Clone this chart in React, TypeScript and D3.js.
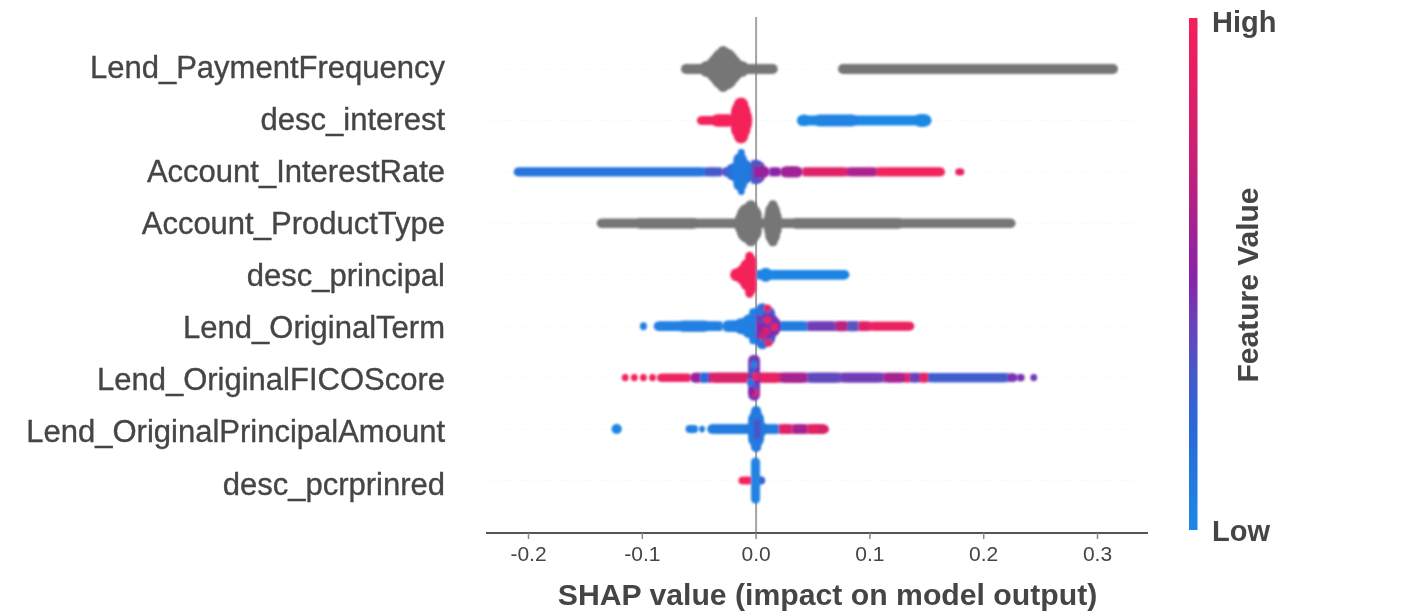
import React from "react";
import * as d3 from "d3";

// [from SHAP, to SHAP, stacked dots, feature value (null = no value, grey)]
type Run = [number, number, number, number | null];
// [SHAP, stack lane away from the row centre, feature value]
type Dot = [number, number, number];

const features = [
  "Lend_PaymentFrequency", "desc_interest", "Account_InterestRate", "Account_ProductType",
  "desc_principal", "Lend_OriginalTerm", "Lend_OriginalFICOScore",
  "Lend_OriginalPrincipalAmount", "desc_pcrprinred",
];
const xTicks = [-0.2, -0.1, 0, 0.1, 0.2, 0.3];

const paymentFrequency: Run[] = [
  [0.072, 0.318, 1, null], [-0.066, 0.019, 1, null],
  [-0.05, -0.006, 2.5, null], [-0.045, -0.011, 6, null], [-0.044, -0.012, 7.5, null],
  [-0.04, -0.016, 9, null], [-0.034, -0.024, 10, null],
];
const descInterest: Run[] = [
  [0.036, 0.154, 0.9, 0], [0.036, 0.048, 1.3, 0], [0.05, 0.09, 1.4, 0.03], [0.138, 0.154, 1.6, 0],
  [-0.052, -0.022, 0.6, 1], [-0.04, -0.02, 1.5, 1],
  [-0.022, -0.0035, 5, 1], [-0.022, -0.005, 8, 0.98], [-0.0195, -0.007, 10, 1],
];
const interestRate: Run[] = [
  [-0.213, -0.045, 0.7, 0.13], [-0.045, -0.03, 0.7, 0.3], [-0.03, -0.015, 1, 0.38],
  [-0.027, 0.008, 3, 0.16], [0.0, 0.0075, 3.5, 0.42],
  [-0.022, -0.002, 5, 0.12], [-0.02, -0.008, 8, 0.1], [-0.016, -0.01, 10, 0.08],
  [-0.004, 0.006, 4.5, 0.32], [-0.002, 0.012, 1.5, 0.55],
  [0.012, 0.021, 0.7, 0.5], [0.021, 0.041, 1.2, 0.58], [0.041, 0.08, 0.7, 0.85],
  [0.08, 0.106, 0.7, 0.62], [0.106, 0.166, 0.7, 0.98], [0.175, 0.183, 0.2, 0.9],
];
const productType: Run[] = [
  [-0.14, 0.228, 0.8, null], [-0.107, -0.05, 1.1, null], [0.03, 0.13, 1.1, null],
  [-0.019, 0.005, 6, null], [-0.017, 0.005, 8.5, null], [-0.01, 0.001, 10, null],
  [0.007, 0.0225, 6, null], [0.008, 0.021, 8.5, null], [0.0105, 0.019, 10, null],
];
const principal: Run[] = [
  [0.0, 0.082, 0.85, 0.02], [0.003, 0.014, 2, 0.02],
  [-0.0228, 0.0, 1.7, 1], [-0.0185, 0.0, 4, 1], [-0.014, 0.0, 6.5, 1],
  [-0.009, 0.0, 8.5, 1], [-0.0095, -0.002, 10, 1],
];
const originalTerm: Run[] = [
  [-0.102, -0.096, 0.5, 0.05], [-0.09, -0.03, 0.9, 0.05], [-0.07, -0.04, 1.2, 0.05],
  [-0.03, 0.0, 1.3, 0.05], [-0.02, 0.0, 2.5, 0.05], [-0.012, 0.0, 4.5, 0.05], [-0.006, 0.001, 7.5, 0.06],
  [0.02, 0.045, 0.9, 0.08], [0.045, 0.07, 0.9, 0.42], [0.07, 0.08, 1, 0.68],
  [0.08, 0.09, 1, 0.35], [0.09, 0.1, 0.9, 0.85], [0.1, 0.139, 0.7, 0.93],
  [0.0, 0.011, 10, 0.12], [0.0, 0.017, 9, 0.3], [0.0, 0.022, 4.5, 0.45],
];
const originalTermDots: Dot[] = [
  [0.003, -3.5, 0.1], [0.01, -4.5, 0.95], [0.004, -1.5, 0.4], [0.01, -1.5, 0.98], [0.016, 0.2, 0.98],
  [0.004, 0.5, 0.55], [0.009, 1.2, 0.8], [0.006, 2.5, 0.75], [0.003, 4.2, 0.15], [0.011, 4.2, 0.95],
];
const ficoScore: Run[] = [
  [-0.118, -0.112, 0.3, 1], [-0.11, -0.104, 0.3, 1], [-0.102, -0.096, 0.3, 0.98], [-0.094, -0.088, 0.3, 1],
  [-0.087, -0.058, 0.5, 0.95], [-0.058, -0.049, 1, 0.55],
  [-0.049, -0.042, 1, 0.2], [-0.042, -0.04, 1, 0.55], [-0.04, -0.005, 1, 0.82],
  [0.001, 0.021, 1, 0.9], [0.021, 0.045, 1, 0.6], [0.045, 0.074, 1, 0.38], [0.074, 0.112, 0.9, 0.42],
  [0.112, 0.131, 0.9, 0.6], [0.131, 0.135, 0.9, 0.9], [0.135, 0.144, 0.9, 0.4], [0.144, 0.151, 0.9, 0.92],
  [0.151, 0.221, 0.8, 0.28], [0.221, 0.23, 0.6, 0.45], [0.23, 0.236, 0.3, 0.45], [0.241, 0.247, 0.3, 0.42],
  [-0.007, 0.0035, 10, 0.45],
];
const ficoDots: Dot[] = [
  [-0.002, -4.5, 0.4], [-0.002, -3.2, 0.05], [-0.004, -1.6, 0.3], [0.0, -0.3, 0.98], [-0.005, 1.2, 0.1],
  [-0.001, 2.5, 0.35], [-0.001, 3.8, 0.95], [-0.004, 3.4, 0.5],
];
const principalAmount: Run[] = [
  [-0.127, -0.118, 1, 0.02], [-0.062, -0.051, 0.5, 0.05], [-0.05, -0.045, 0.2, 0.05],
  [-0.043, 0.02, 0.9, 0.08], [0.02, 0.032, 0.9, 0.85], [0.032, 0.045, 0.9, 0.6], [0.045, 0.06, 0.9, 0.88], [0.053, 0.064, 0.7, 0.8],
  [-0.008, 0.009, 4, 0.1], [-0.007, 0.007, 7.5, 0.08], [-0.0045, 0.0045, 10, 0.1], [-0.002, 0.004, 3.5, 0.3],
];
const pcrPrinred: Run[] = [
  [-0.0155, 0.0, 0.4, 1], [-0.0045, 0.008, 0.5, 0.25], [-0.0045, 0.0035, 10, 0.03],
];

const rows: Run[][] = [
  paymentFrequency, descInterest, interestRate, productType, principal,
  originalTerm, ficoScore, principalAmount, pcrPrinred,
];
const scattered: Dot[][] = [[], [], [], [], [], originalTermDots, ficoDots, [], []];

const W = 1425, H = 615;
const FONT = "'Liberation Sans', Arial, sans-serif";
const TEXT = "#454545";

const x = d3.scaleLinear().domain([-0.2, 0.3]).range([528.5, 1097.5]);
const yDots = d3.scalePoint<number>().domain(d3.range(9)).range([69, 480.5]);
const yLabels = d3.scalePoint<number>().domain(d3.range(9)).range([67, 484]);
const thick = d3.scaleLinear().domain([1, 10]).range([10, 46]);
const colour = d3.scaleLinear<string>()
  .domain([0, 0.22, 0.36, 0.5, 0.75, 1])
  .range(["#1e88e5", "#2a66d8", "#5a50c0", "#8a22a8", "#d0206f", "#f5205a"]);
const barY = d3.scaleLinear().domain([0, 1]).range([530, 18]);
const gradStops = d3.range(0, 1.01, 0.1);

function RunMark({ run, others }: { run: Run; others: Run[] }) {
  const [a, b, s, c] = run;
  const t = thick(s);
  const w = x(b) - x(a);
  const r = Math.min(w, t) / 2;
  const fill = c === null ? "#767676" : colour(c);
  const y = -t / 2;
  // an end that meets a neighbouring run of the band stays square, so the band has no notch
  const left = others.some((o) => o !== run && o[0] < a && o[1] >= a - 1e-6 && thick(o[2]) >= t - 1);
  const right = others.some((o) => o !== run && o[1] > b && o[0] <= b + 1e-6 && thick(o[2]) >= t - 1);
  const sx = left ? x(a) : x(a) + r;
  const ex = right ? x(b) : x(b) - r;
  return (
    <g>
      <rect x={x(a)} width={w} y={y} height={t} rx={r} ry={r} fill={fill} />
      <rect x={sx} width={Math.max(0, ex - sx)} y={y} height={t} fill={fill} />
    </g>
  );
}

export default function App() {
  return (
    <svg width={W} height={H} viewBox={`0 0 ${W} ${H}`}
      style={{ position: "absolute", left: 0, top: 0, background: "#fff", fontFamily: FONT }}>
      <defs>
        <filter id="soft" x="-5%" y="-5%" width="110%" height="110%">
          <feGaussianBlur stdDeviation="0.8" />
        </filter>
        <linearGradient id="bar" x1="0" y1="1" x2="0" y2="0">
          {gradStops.map((s) => <stop key={s} offset={s} stopColor={colour(s)} />)}
        </linearGradient>
      </defs>

      {features.map((_, i) => (
        <line key={i} x1={490} x2={1140} y1={yDots(i)} y2={yDots(i)} stroke="#f6f6f6" strokeWidth={1} strokeDasharray="2 3" />
      ))}
      <line x1={x(0)} x2={x(0)} y1={17} y2={533} stroke="#a3a3a3" strokeWidth={2} />

      <g filter="url(#soft)">
        {rows.map((runs, i) => (
          <g key={i} transform={`translate(0,${yDots(i)})`}>
            {runs.map((r, j) => <RunMark key={j} run={r} others={runs} />)}
            {scattered[i].map(([v, lane, c], j) => (
              <circle key={j} cx={x(v)} cy={lane * 4} r={3.6} fill={colour(c)} />
            ))}
          </g>
        ))}
      </g>

      <line x1={486} x2={1148} y1={533} y2={533} stroke="#555" strokeWidth={2} />
      {xTicks.map((v) => (
        <g key={v}>
          <line x1={x(v)} x2={x(v)} y1={533} y2={539} stroke="#888" strokeWidth={1.5} />
          <text x={x(v)} y={561} textAnchor="middle" fontSize={21} fill={TEXT}>{v.toFixed(1)}</text>
        </g>
      ))}
      <text x={827.5} y={605} textAnchor="middle" fontSize={30.2} fontWeight="bold" fill={TEXT}>
        SHAP value (impact on model output)
      </text>

      {features.map((f, i) => (
        <text key={f} x={445} y={yLabels(i)! + 10.5} textAnchor="end" fontSize={31} fill={TEXT}
          stroke={TEXT} strokeWidth={0.35}>{f}</text>
      ))}

      <rect x={1189} y={barY(1)} width={8.5} height={barY(0) - barY(1)} fill="url(#bar)" />
      <text x={1212} y={32} fontSize={29} fontWeight="bold" fill={TEXT}>High</text>
      <text x={1212} y={541} fontSize={29} fontWeight="bold" fill={TEXT}>Low</text>
      <text transform="translate(1257.5,285) rotate(-90)" textAnchor="middle" fontSize={30} fontWeight="bold" fill={TEXT}>
        Feature Value
      </text>
    </svg>
  );
}
